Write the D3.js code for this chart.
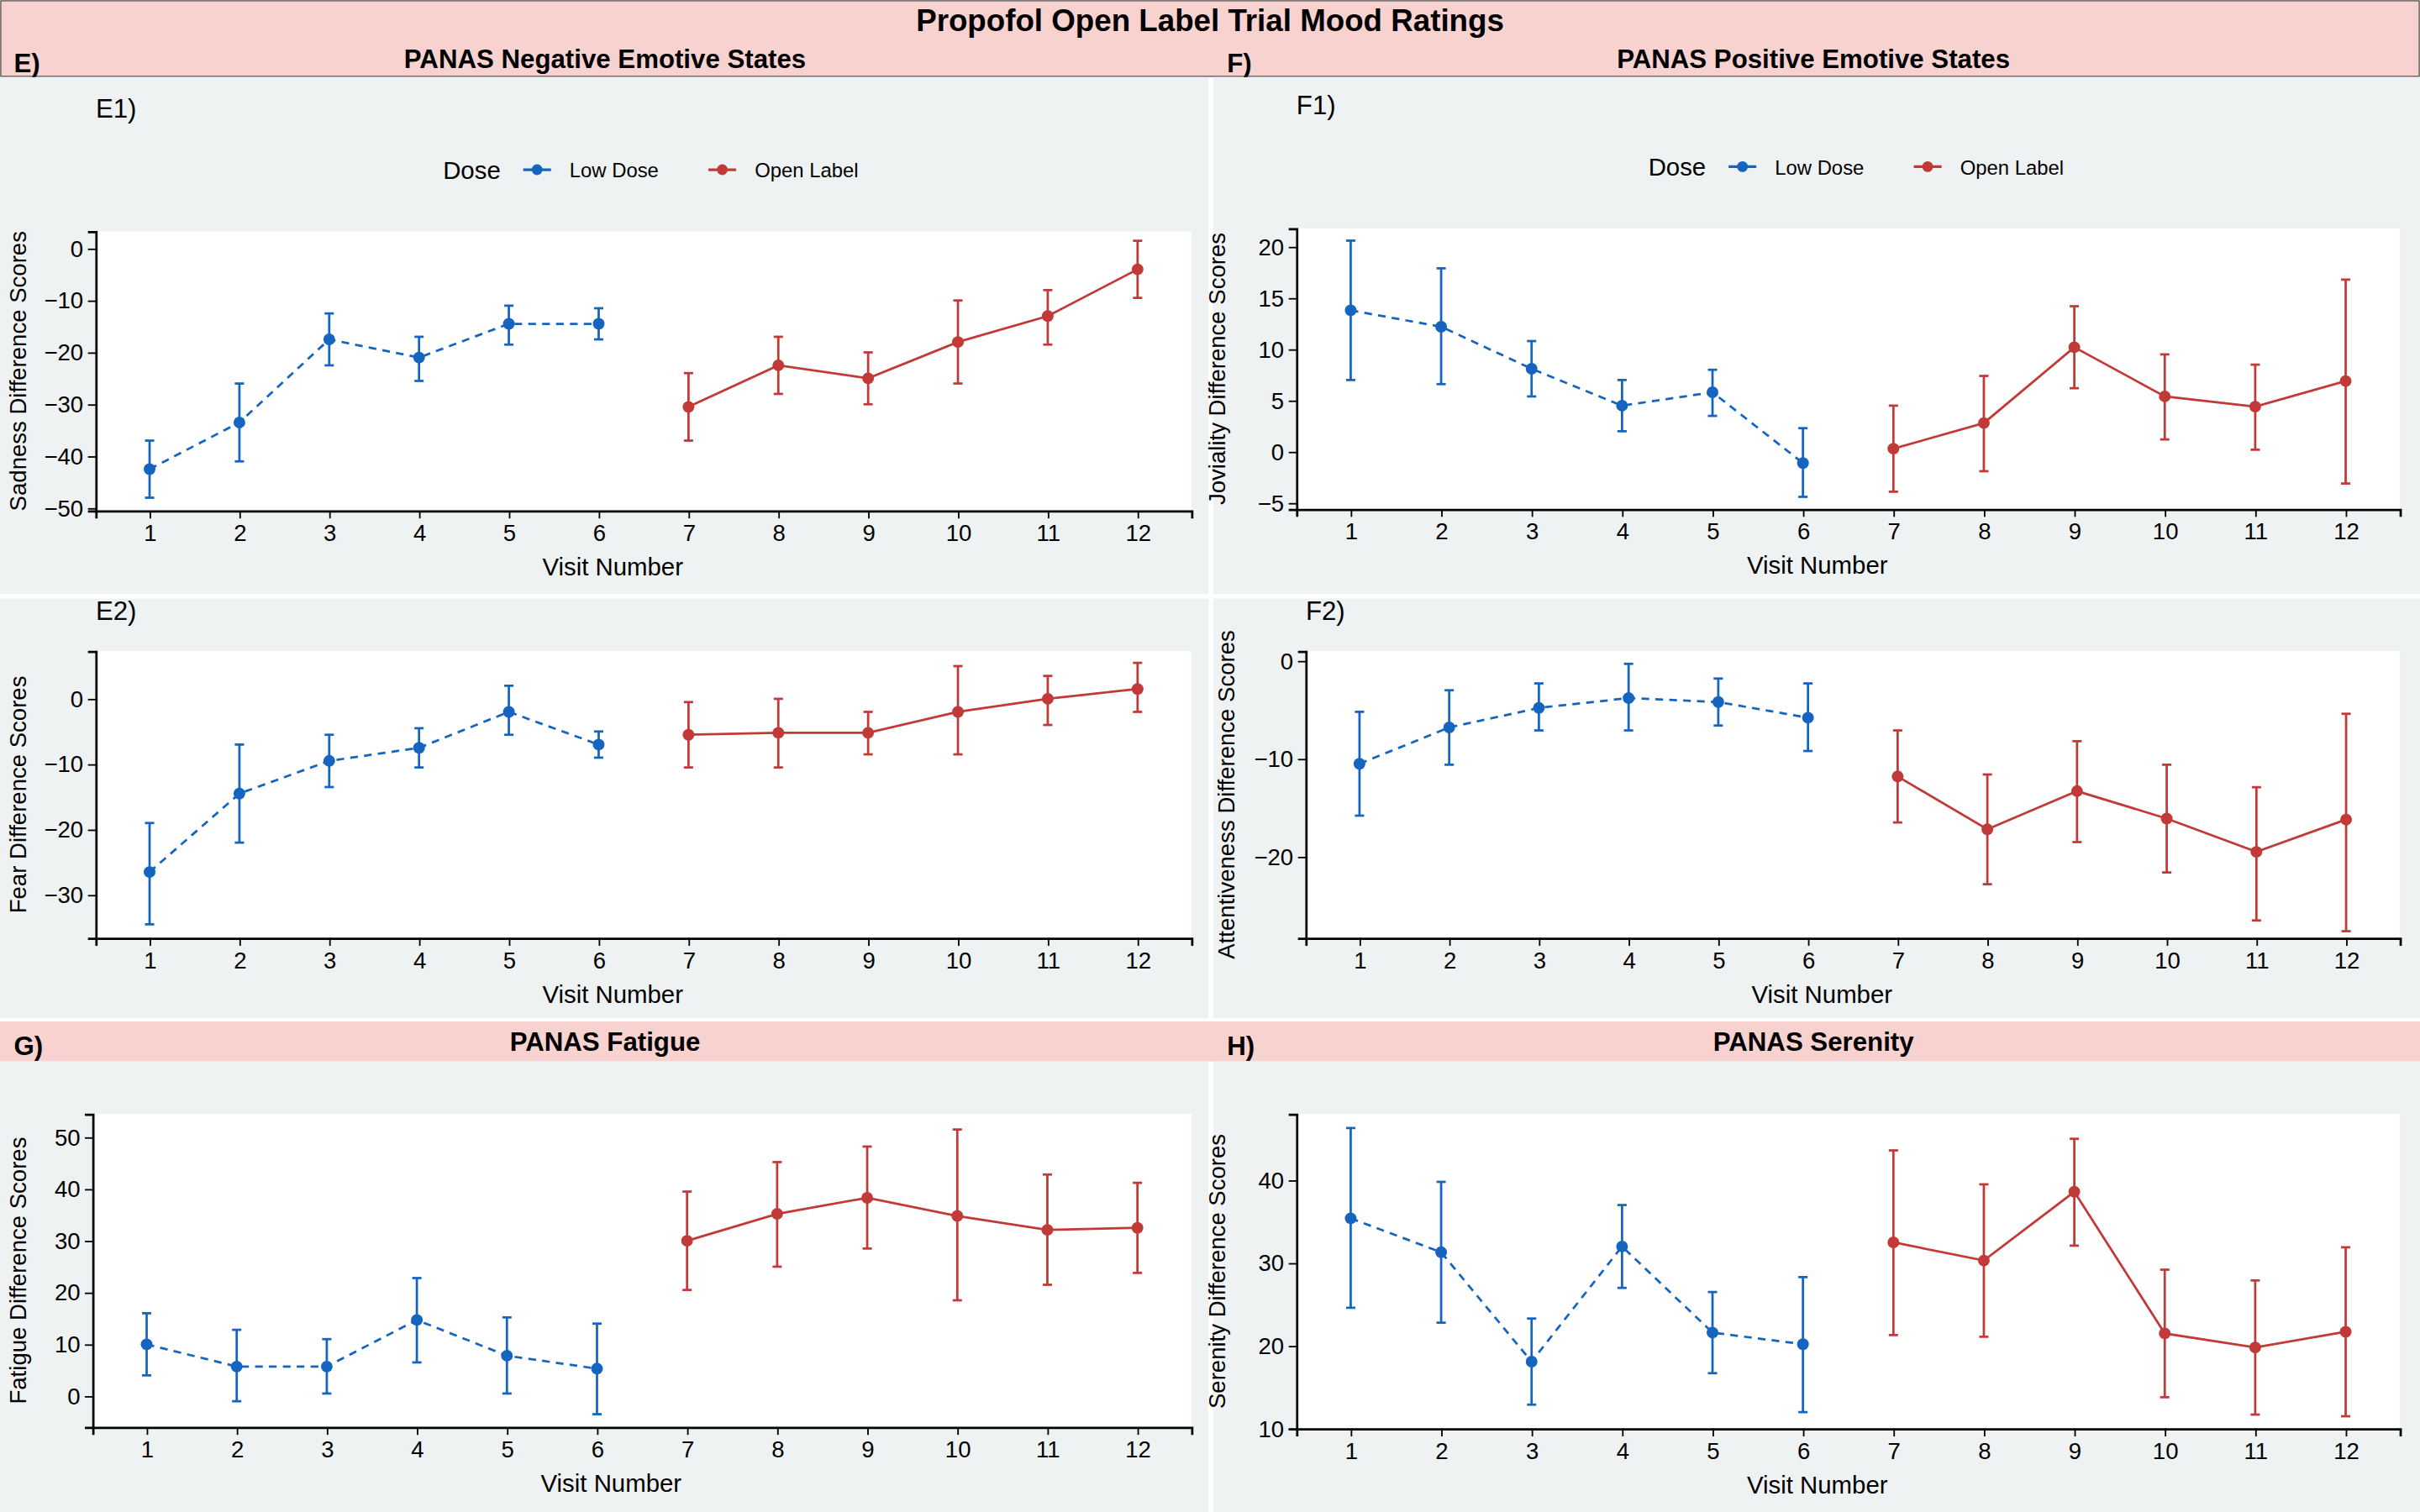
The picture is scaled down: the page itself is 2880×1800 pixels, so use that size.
<!DOCTYPE html>
<html><head><meta charset="utf-8">
<script src="https://cdn.jsdelivr.net/npm/d3@7"></script>
<style>body{margin:0;background:#fff}svg{display:block;font-family:"Liberation Sans",Arial,sans-serif}</style>
</head><body>
<svg id="c" width="2880" height="1800"></svg>
<script>
// data
const visits = [1,2,3,4,5,6,7,8,9,10,11,12];
const doseNames = ['Low Dose','Open Label'];
const sadness = [-42.5,-33.5,-17.5,-21,-14.5,-14.5,-30.5,-22.5,-25,-18,-13,-4];
const sadnessLo = [-48,-41,-22.5,-25.5,-18.5,-17.5,-37,-28,-30,-26,-18.5,-9.5];
const sadnessHi = [-37,-26,-12.5,-17,-11,-11.5,-24,-17,-20,-10,-8,1.5];
const fear = [-26.5,-14.5,-9.5,-7.5,-2,-7,-5.5,-5.2,-5.2,-2,0,1.5];
const fearLo = [-34.5,-22,-13.5,-10.5,-5.5,-9,-10.5,-10.5,-8.5,-8.5,-4,-2];
const fearHi = [-19,-7,-5.5,-4.5,2,-5,-0.5,0,-2,5,3.5,5.5];
const fatigue = [10,5.7,5.7,14.7,7.8,5.3,30,35.2,38.3,34.8,32.1,32.5];
const fatigueLo = [4,-1,0.5,6.5,0.5,-3.5,20.5,25,28.5,18.5,21.5,23.8];
const fatigueHi = [16,12.8,11,22.8,15.2,14,39.5,45.2,48.2,51.5,42.8,41.2];
const joviality = [13.8,12.2,8.1,4.5,5.8,-1.1,0.3,2.8,10.2,5.4,4.4,6.9];
const jovialityLo = [7,6.6,5.4,2,3.5,-4.4,-3.9,-1.9,6.2,1.2,0.2,-3.1];
const jovialityHi = [20.6,17.9,10.8,7,8,2.3,4.5,7.4,14.2,9.5,8.5,16.8];
const attent = [-10.5,-6.8,-4.8,-3.8,-4.2,-5.8,-11.8,-17.2,-13.3,-16.1,-19.5,-16.2];
const attentLo = [-15.8,-10.6,-7.1,-7.1,-6.6,-9.2,-16.5,-22.8,-18.5,-21.6,-26.5,-27.6];
const attentHi = [-5.2,-3,-2.3,-0.3,-1.8,-2.3,-7.1,-11.6,-8.2,-10.6,-12.9,-5.4];
const serenity = [35.4,31.3,18.1,32,21.6,20.2,32.5,30.3,38.6,21.5,19.8,21.7];
const serenityLo = [24.6,22.8,12.9,27,16.7,12,21.3,21.1,32.1,13.8,11.7,11.5];
const serenityHi = [46.3,39.8,23.3,37,26.5,28.3,43.6,39.5,45,29.2,27.9,31.9];

const S = 2880/1568;
const svg = d3.select('#c');
const g = svg.append('g').attr('transform', `scale(${S})`);
const pink = '#F7D2CF', panelBg = '#EFF2F3';
const colors = ['#1565C0', '#C23A37'];

// bands
g.append('rect').attr('x',0).attr('y',0).attr('width',1568).attr('height',980).attr('fill','#fff');
g.append('rect').attr('x',0.5).attr('y',0.5).attr('width',1567).attr('height',49).attr('fill',pink).attr('stroke','#333').attr('stroke-width',0.6);
g.append('text').attr('x',784).attr('y',20).attr('text-anchor','middle').attr('font-size',20).attr('font-weight','bold').text('Propofol Open Label Trial Mood Ratings');
g.append('rect').attr('x',0).attr('y',662).attr('width',1568).attr('height',26).attr('fill',pink);
const heads = [[0,44,'E)','PANAS Negative Emotive States',392],[786,44,'F)','PANAS Positive Emotive States',1175],
  [0,681,'G)','PANAS Fatigue',392],[786,681,'H)','PANAS Serenity',1175]];
heads.forEach(h => {
  g.append('text').attr('x',h[0]+9).attr('y',h[1]+3).attr('font-size',17).attr('font-weight','bold').text(h[2]);
  g.append('text').attr('x',h[4]).attr('y',h[1]).attr('text-anchor','middle').attr('font-size',17).attr('font-weight','bold').text(h[3]);
});
// panel backgrounds
[[0,50,783,335],[786,50,782,335],[0,388,783,272],[786,388,782,272],[0,688,783,292],[786,688,782,292]]
  .forEach(r => g.append('rect').attr('x',r[0]).attr('y',r[1]).attr('width',r[2]).attr('height',r[3]).attr('fill',panelBg));

function panel(o) {
  const x = d3.scaleLinear().domain([0.4,12.6]).range([o.x0, o.x1]);
  const y = d3.scaleLinear().domain(o.dom).range([o.y1, o.y0]);
  const p = g.append('g');
  p.append('rect').attr('x',o.x0).attr('y',o.y0).attr('width',o.x1-o.x0).attr('height',o.y1-o.y0).attr('fill','#fff');
  if (o.label) p.append('text').attr('x',o.x0).attr('y',o.y0-(o.legend?74:20)).attr('font-size',17).text(o.label);
  const ax = p.append('g').attr('transform',`translate(0,${o.y1})`).call(d3.axisBottom(x).tickValues(visits).tickSize(5).tickPadding(4));
  const ay = p.append('g').attr('transform',`translate(${o.x0},0)`).call(d3.axisLeft(y).tickValues(o.ticks).tickSize(5).tickPadding(3));
  [ax, ay].forEach(a => { a.selectAll('text').attr('font-size',15).attr('fill','#000').attr('font-family','inherit');
    a.selectAll('line').attr('stroke','#000'); a.select('.domain').attr('stroke','#000').attr('stroke-width',1.5); });
  p.append('text').attr('x',(o.x0+o.x1)/2-20).attr('y',o.y1+42).attr('text-anchor','middle').attr('font-size',16).text('Visit Number');
  p.append('text').attr('transform',`translate(${Math.max(o.x0-46,17)},${(o.y0+o.y1)/2}) rotate(-90)`).attr('text-anchor','middle')
    .attr('font-size',15).text(o.ytitle);
  [0,1].forEach(k => {
    const idx = d3.range(k*6, k*6+6);
    const c = colors[k];
    p.append('path').datum(idx).attr('fill','none').attr('stroke',c).attr('stroke-width',1.5)
      .attr('stroke-dasharray', k===0 ? '5,4' : null)
      .attr('d', d3.line().x(i => x(visits[i])).y(i => y(o.m[i])));
    idx.forEach(i => {
      const cx = x(visits[i]);
      p.append('line').attr('x1',cx).attr('x2',cx).attr('y1',y(o.lo[i])).attr('y2',y(o.hi[i])).attr('stroke',c).attr('stroke-width',1.5);
      [o.lo[i], o.hi[i]].forEach(v => p.append('line').attr('x1',cx-3).attr('x2',cx+3).attr('y1',y(v)).attr('y2',y(v)).attr('stroke',c).attr('stroke-width',1.5));
      p.append('circle').attr('cx',cx).attr('cy',y(o.m[i])).attr('r',3.8).attr('fill',c);
    });
  });
  if (o.legend) {
    const lg = p.append('g').attr('transform',`translate(${o.legend},${o.y0-40})`);
    lg.append('text').attr('x',0).attr('y',6).attr('font-size',16).text('Dose');
    [0,1].forEach(k => {
      const lx = 52 + k*120;
      lg.append('line').attr('x1',lx).attr('x2',lx+18).attr('y1',0).attr('y2',0).attr('stroke',colors[k]).attr('stroke-width',1.8);
      lg.append('circle').attr('cx',lx+9).attr('cy',0).attr('r',3.5).attr('fill',colors[k]);
      lg.append('text').attr('x',lx+30).attr('y',5).attr('font-size',13).text(doseNames[k]);
    });
  }
}

panel({x0:62,x1:772,y0:150,y1:331,dom:[-50.5,3.3],ticks:[-50,-40,-30,-20,-10,0],m:sadness,lo:sadnessLo,hi:sadnessHi,
  ytitle:'Sadness Difference Scores',label:'E1)',legend:287});
panel({x0:62,x1:772,y0:422,y1:608,dom:[-36.6,7.3],ticks:[-30,-20,-10,0],m:fear,lo:fearLo,hi:fearHi,
  ytitle:'Fear Difference Scores',label:'E2)'});
panel({x0:60,x1:772,y0:722,y1:925,dom:[-6,54.5],ticks:[0,10,20,30,40,50],m:fatigue,lo:fatigueLo,hi:fatigueHi,
  ytitle:'Fatigue Difference Scores'});
panel({x0:840,x1:1555,y0:148,y1:330,dom:[-5.6,21.8],ticks:[-5,0,5,10,15,20],m:joviality,lo:jovialityLo,hi:jovialityHi,
  ytitle:'Joviality Difference Scores',label:'F1)',legend:1068});
panel({x0:846,x1:1555,y0:422,y1:608,dom:[-28.3,1],ticks:[-20,-10,0],m:attent,lo:attentLo,hi:attentHi,
  ytitle:'Attentiveness Difference Scores',label:'F2)'});
panel({x0:840,x1:1555,y0:722,y1:926,dom:[10,48],ticks:[10,20,30,40],m:serenity,lo:serenityLo,hi:serenityHi,
  ytitle:'Serenity Difference Scores'});
</script>
</body></html>
